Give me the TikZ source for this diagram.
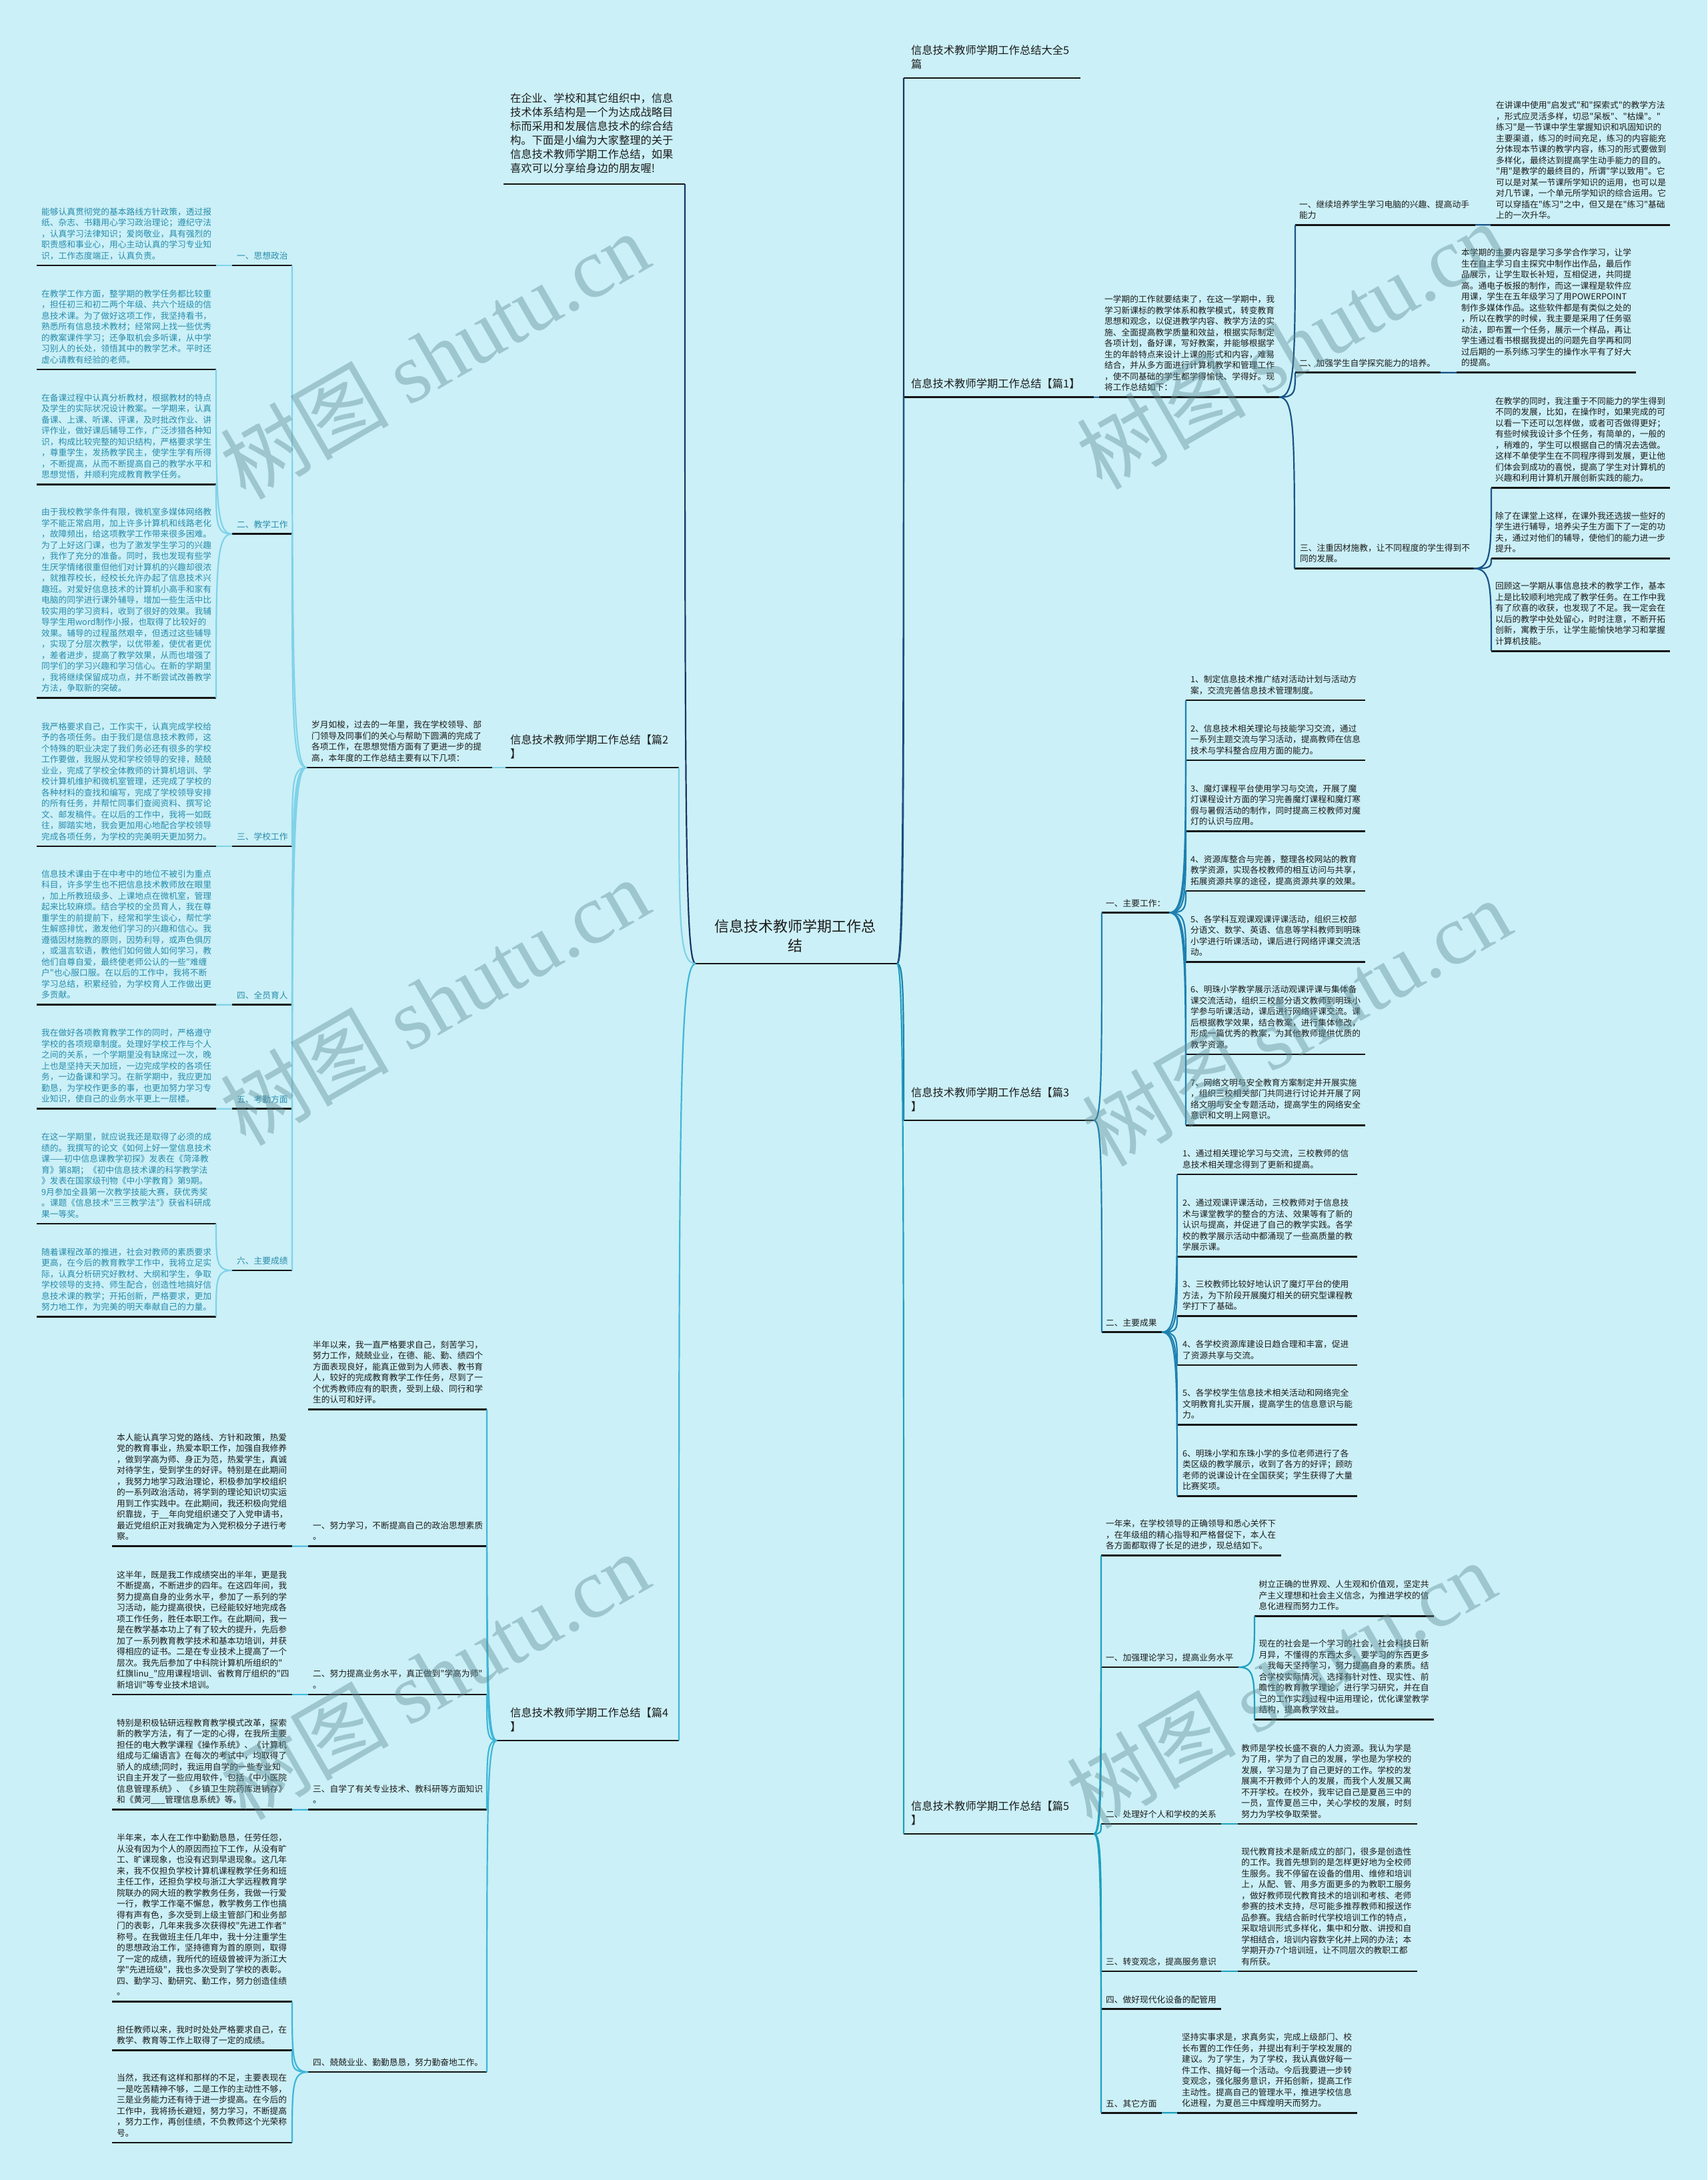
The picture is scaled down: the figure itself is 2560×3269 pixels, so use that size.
\documentclass[tikz,border=0pt]{standalone}
\usepackage{fontspec}
\newfontfamily\cjk{Noto Sans CJK SC}
\newfontfamily\wmlat{Liberation Serif}
\usetikzlibrary{calc}
\definecolor{bgc}{RGB}{203,240,247}
\definecolor{tealtxt}{RGB}{40,140,172}
\definecolor{ink}{RGB}{28,28,28}
\definecolor{cA}{RGB}{26,52,100}
\definecolor{cBa}{RGB}{24,84,134}
\definecolor{cBb}{RGB}{128,210,233}
\definecolor{cBc}{RGB}{30,128,176}
\definecolor{cBd}{RGB}{62,182,216}
\definecolor{cBe}{RGB}{30,160,190}
\definecolor{wmc}{RGB}{95,140,150}
\newcommand\leaffont{\cjk\fontsize{12.75}{16.5}\selectfont}
\newcommand\bigfont{\cjk\fontsize{16.3}{21}\selectfont}
\newcommand\rootfont{\cjk\fontsize{22}{29}\selectfont}
\newcommand\wmfont{\cjk\fontsize{127}{130}\selectfont}
\newcommand\tnode[6]{\node[#1] (#2) at (#3,{#4-20.6-(#5-1)*16.5}) {#6};}
\newcommand\bnode[6]{\node[#1] (#2) at (#3,{#4-28.5-(#5-1)*21}) {#6};}
\newcommand\ulmk[4]{\coordinate (#1L) at (#2,#4); \coordinate (#1R) at (#3,#4); \draw[uline] (#1L) -- (#1R);}
\newcommand\lnk[3]{\draw[conn,#1] (#2) .. controls (#2 -| #3) and ($(#3)!0.8!(#2 -| #3)$) .. (#3);}
\tikzset{
  tbase/.style={anchor=north west, inner sep=0pt, outer sep=0pt, align=left, execute at begin node={\rule{0pt}{0.9em}}},
  leafk/.style={tbase, font=\leaffont, text=ink},
  leaft/.style={tbase, font=\leaffont, text=tealtxt},
  bigk/.style={tbase, font=\bigfont, text=ink},
  uline/.style={draw=black!92, line width=2.6pt},
  conn/.style={line width=2.2pt},
  wmark/.style={rotate=30, text=wmc, opacity=0.42, inner sep=0pt, font=\wmfont},
}
\begin{document}
\begin{tikzpicture}[x=1pt,y=-1pt]
\fill[bgc] (0,0) rectangle (2560,3269);
\useasboundingbox (0,0) rectangle (2560,3269);

% ---------------- root ----------------
\node[font=\rootfont, text=ink, align=center, inner sep=0pt] (root) at (1192,1403) {信息技术教师学期工作总\\结};
\ulmk{RT}{1043}{1345}{1445}

% ---------------- top intro ----------------
\ulmk{I0}{755}{1027}{276}
\node[bigk] (I0) at (765,139.5) {在企业、学校和其它组织中，信息\\技术体系结构是一个为达成战略目\\标而采用和发展信息技术的综合结\\构。下面是小编为大家整理的关于\\信息技术教师学期工作总结，如果\\喜欢可以分享给身边的朋友喔!};

% ---------------- top title ----------------
\ulmk{T0}{1355}{1620}{117}
\bnode{bigk}{T0}{1366}{117}{2}{信息技术教师学期工作总结大全5\\篇}

% ---------------- 篇2 (left) ----------------
\ulmk{Pb}{758}{1018}{1151}
\bnode{bigk}{Pb}{765}{1151}{2}{信息技术教师学期工作总结【篇2\\】}
\ulmk{Pbi}{460}{738}{1151}
\tnode{leafk}{Pbi}{467}{1151}{4}{岁月如梭，过去的一年里，我在学校领导、部\\门领导及同事们的关心与帮助下圆满的完成了\\各项工作，在思想觉悟方面有了更进一步的提\\高，本年度的工作总结主要有以下几项：}

\ulmk{La}{348}{438}{398}
\tnode{leaft}{La}{355}{398}{1}{一、思想政治}
\ulmk{Lb}{348}{438}{800.7}
\tnode{leaft}{Lb}{355}{800.7}{1}{二、教学工作}
\ulmk{Lc}{348}{438}{1269}
\tnode{leaft}{Lc}{355}{1269}{1}{三、学校工作}
\ulmk{Ld}{348}{438}{1506.7}
\tnode{leaft}{Ld}{355}{1506.7}{1}{四、全员育人}
\ulmk{Le}{348}{438}{1662.7}
\tnode{leaft}{Le}{355}{1662.7}{1}{五、考勤方面}
\ulmk{Lf}{348}{438}{1905}
\tnode{leaft}{Lf}{355}{1905}{1}{六、主要成绩}

\ulmk{La1}{55}{324}{398}
\tnode{leaft}{La1}{62}{398}{5}{能够认真贯彻党的基本路线方针政策，透过报\\纸、杂志、书籍用心学习政治理论；遵纪守法\\，认真学习法律知识；爱岗敬业，具有强烈的\\职责感和事业心，用心主动认真的学习专业知\\识，工作态度端正，认真负责。}
\ulmk{Lb1}{55}{324}{554}
\tnode{leaft}{Lb1}{62}{554}{7}{在教学工作方面，整学期的教学任务都比较重\\，担任初三和初二两个年级、共六个班级的信\\息技术课。为了做好这项工作，我坚持看书，\\熟悉所有信息技术教材；经常网上找一些优秀\\的教案课件学习；还争取机会多听课，从中学\\习别人的长处，领悟其中的教学艺术。平时还\\虚心请教有经验的老师。}
\ulmk{Lb2}{55}{324}{726.4}
\tnode{leaft}{Lb2}{62}{726.4}{8}{在备课过程中认真分析教材，根据教材的特点\\及学生的实际状况设计教案。一学期来，认真\\备课、上课、听课、评课，及时批改作业、讲\\评作业，做好课后辅导工作，广泛涉猎各种知\\识，构成比较完整的知识结构，严格要求学生\\，尊重学生，发扬教学民主，使学生学有所得\\，不断提高，从而不断提高自己的教学水平和\\思想觉悟，并顺利完成教育教学任务。}
\ulmk{Lb3}{55}{324}{1046.5}
\tnode{leaft}{Lb3}{62}{1046.5}{17}{由于我校教学条件有限，微机室多媒体网络教\\学不能正常启用，加上许多计算机和线路老化\\，故障频出，给这项教学工作带来很多困难。\\为了上好这门课，也为了激发学生学习的兴趣\\，我作了充分的准备。同时，我也发现有些学\\生厌学情绪很重但他们对计算机的兴趣却很浓\\，就推荐校长，经校长允许办起了信息技术兴\\趣班。对爱好信息技术的计算机小高手和家有\\电脑的同学进行课外辅导，增加一些生活中比\\较实用的学习资料，收到了很好的效果。我辅\\导学生用word制作小报，也取得了比较好的\\效果。辅导的过程虽然艰辛，但透过这些辅导\\，实现了分层次教学，以优带差，使优者更优\\，差者进步，提高了教学效果，从而也增强了\\同学们的学习兴趣和学习信心。在新的学期里\\，我将继续保留成功点，并不断尝试改善教学\\方法，争取新的突破。}
\ulmk{Lc1}{55}{324}{1269}
\tnode{leaft}{Lc1}{62}{1269}{11}{我严格要求自己，工作实干，认真完成学校给\\予的各项任务。由于我们是信息技术教师，这\\个特殊的职业决定了我们务必还有很多的学校\\工作要做，我服从党和学校领导的安排，兢兢\\业业，完成了学校全体教师的计算机培训、学\\校计算机维护和微机室管理，还完成了学校的\\各种材料的查找和编写，完成了学校领导安排\\的所有任务，并帮忙同事们查阅资料、撰写论\\文、邮发稿件。在以后的工作中，我将一如既\\往，脚踏实地，我会更加用心地配合学校领导\\完成各项任务，为学校的完美明天更加努力。}
\ulmk{Ld1}{55}{324}{1506.7}
\tnode{leaft}{Ld1}{62}{1506.7}{12}{信息技术课由于在中考中的地位不被引为重点\\科目，许多学生也不把信息技术教师放在眼里\\，加上所教班级多、上课地点在微机室，管理\\起来比较麻烦。结合学校的全员育人，我在尊\\重学生的前提前下，经常和学生谈心，帮忙学\\生解惑排忧，激发他们学习的兴趣和信心。我\\遵循因材施教的原则，因势利导，或声色俱厉\\，或温言软语，教他们如何做人如何学习，教\\他们自尊自爱，最终使老师公认的一些"难缠\\户"也心服口服。在以后的工作中，我将不断\\学习总结，积累经验，为学校育人工作做出更\\多贡献。}
\ulmk{Le1}{55}{324}{1662.7}
\tnode{leaft}{Le1}{62}{1662.7}{7}{我在做好各项教育教学工作的同时，严格遵守\\学校的各项规章制度。处理好学校工作与个人\\之间的关系，一个学期里没有缺席过一次，晚\\上也是坚持天天加班，一边完成学校的各项任\\务，一边备课和学习。在新学期中，我应更加\\勤恳，为学校作更多的事，也更加努力学习专\\业知识，使自己的业务水平更上一层楼。}
\ulmk{Lf1}{55}{324}{1835}
\tnode{leaft}{Lf1}{62}{1835}{8}{在这一学期里，就应说我还是取得了必须的成\\绩的。我撰写的论文《如何上好一堂信息技术\\课——初中信息课教学初探》发表在《菏泽教\\育》第8期；《初中信息技术课的科学教学法\\》发表在国家级刊物《中小学教育》第9期。\\9月参加全县第一次教学技能大赛，获优秀奖\\。课题《信息技术"三三教学法"》获省科研成\\果一等奖。}
\ulmk{Lf2}{55}{324}{1974.3}
\tnode{leaft}{Lf2}{62}{1974.3}{6}{随着课程改革的推进，社会对教师的素质要求\\更高，在今后的教育教学工作中，我将立足实\\际，认真分析研究好教材、大纲和学生，争取\\学校领导的支持、师生配合，创造性地搞好信\\息技术课的教学；开拓创新，严格要求，更加\\努力地工作，为完美的明天奉献自己的力量。}

\lnk{cBb}{PbL}{PbiR}
\lnk{cBb}{PbiL}{LaR}
\lnk{cBb}{PbiL}{LbR}
\lnk{cBb}{PbiL}{LcR}
\lnk{cBb}{PbiL}{LdR}
\lnk{cBb}{PbiL}{LeR}
\lnk{cBb}{PbiL}{LfR}
\lnk{cBb}{LaL}{La1R}
\lnk{cBb}{LbL}{Lb1R}
\lnk{cBb}{LbL}{Lb2R}
\lnk{cBb}{LbL}{Lb3R}
\lnk{cBb}{LcL}{Lc1R}
\lnk{cBb}{LdL}{Ld1R}
\lnk{cBb}{LeL}{Le1R}
\lnk{cBb}{LfL}{Lf1R}
\lnk{cBb}{LfL}{Lf2R}

% ---------------- 篇4 (left) ----------------
\ulmk{Pd}{745}{1018}{2610}
\bnode{bigk}{Pd}{765}{2610}{2}{信息技术教师学期工作总结【篇4\\】}
\ulmk{Pdi}{462}{730}{2113.7}
\tnode{leafk}{Pdi}{469}{2113.7}{6}{半年以来，我一直严格要求自己，刻苦学习，\\努力工作，兢兢业业，在德、能、勤、绩四个\\方面表现良好，能真正做到为人师表、教书育\\人，较好的完成教育教学工作任务，尽到了一\\个优秀教师应有的职责，受到上级、同行和学\\生的认可和好评。}
\ulmk{Sa}{462}{730}{2318.6}
\tnode{leafk}{Sa}{469}{2318.6}{2}{一、努力学习，不断提高自己的政治思想素质\\。}
\ulmk{Sa1}{168}{438}{2318.6}
\tnode{leafk}{Sa1}{175}{2318.6}{10}{本人能认真学习党的路线、方针和政策，热爱\\党的教育事业，热爱本职工作，加强自我修养\\，做到学高为师、身正为范，热爱学生，真诚\\对待学生，受到学生的好评。特别是在此期间\\，我努力地学习政治理论，积极参加学校组织\\的一系列政治活动，将学到的理论知识切实运\\用到工作实践中。在此期间，我还积极向党组\\织靠拢，于\_\_年向党组织递交了入党申请书，\\最近党组织正对我确定为入党积极分子进行考\\察。}
\ulmk{Sb}{462}{730}{2541}
\tnode{leafk}{Sb}{469}{2541}{2}{二、努力提高业务水平，真正做到"学高为师"\\。}
\ulmk{Sb1}{168}{438}{2541}
\tnode{leafk}{Sb1}{175}{2541}{11}{这半年，既是我工作成绩突出的半年，更是我\\不断提高，不断进步的四年。在这四年间，我\\努力提高自身的业务水平，参加了一系列的学\\习活动，能力提高很快，已经能较好地完成各\\项工作任务，胜任本职工作。在此期间，我一\\是在教学基本功上了有了较大的提升，先后参\\加了一系列教育教学技术和基本功培训，并获\\得相应的证书。二是在专业技术上提高了一个\\层次。我先后参加了中科院计算机所组织的"\\红旗linu\_"应用课程培训、省教育厅组织的"四\\新培训"等专业技术培训。}
\ulmk{Sc}{462}{730}{2713.7}
\tnode{leafk}{Sc}{469}{2713.7}{2}{三、自学了有关专业技术、教科研等方面知识\\。}
\ulmk{Sc1}{168}{438}{2713.7}
\tnode{leafk}{Sc1}{175}{2713.7}{8}{特别是积极钻研远程教育教学模式改革，探索\\新的教学方法，有了一定的心得，在我所主要\\担任的电大教学课程《操作系统》、《计算机\\组成与汇编语言》在每次的考试中，均取得了\\骄人的成绩;同时，我运用自学的一些专业知\\识自主开发了一些应用软件，包括《中小医院\\信息管理系统》、《乡镇卫生院药库进销存》\\和《黄河\_\_\_管理信息系统》等。}
\ulmk{Sd}{462}{730}{3107}
\tnode{leafk}{Sd}{469}{3107}{1}{四、兢兢业业、勤勤恳恳，努力勤奋地工作。}
\ulmk{Sd1}{168}{438}{3001.6}
\tnode{leafk}{Sd1}{175}{3001.6}{15}{半年来，本人在工作中勤勤恳恳，任劳任怨，\\从没有因为个人的原因而拉下工作，从没有旷\\工、旷课现象，也没有迟到早退现象。这几年\\来，我不仅担负学校计算机课程教学任务和班\\主任工作，还担负学校与浙江大学远程教育学\\院联办的网大班的教学教务任务，我做一行爱\\一行，教学工作毫不懈怠，教学教务工作也搞\\得有声有色，多次受到上级主管部门和业务部\\门的表彰，几年来我多次获得校"先进工作者"\\称号。在我做班主任几年中，我十分注重学生\\的思想政治工作，坚持德育为首的原则，取得\\了一定的成绩，我所代的班级曾被评为浙江大\\学"先进班级"，我也多次受到了学校的表彰。\\四、勤学习、勤研究、勤工作，努力创造佳绩\\。}
\ulmk{Sd2}{168}{438}{3074.7}
\tnode{leafk}{Sd2}{175}{3074.7}{2}{担任教师以来，我时时处处严格要求自己，在\\教学、教育等工作上取得了一定的成绩。}
\ulmk{Sd3}{168}{438}{3213}
\tnode{leafk}{Sd3}{175}{3213}{6}{当然，我还有这样和那样的不足，主要表现在\\一是吃苦精神不够，二是工作的主动性不够，\\三是业务能力还有待于进一步提高。在今后的\\工作中，我将扬长避短，努力学习，不断提高\\，努力工作，再创佳绩，不负教师这个光荣称\\号。}

\lnk{cBd}{PdL}{PdiR}
\lnk{cBd}{PdL}{SaR}
\lnk{cBd}{PdL}{SbR}
\lnk{cBd}{PdL}{ScR}
\lnk{cBd}{PdL}{SdR}
\lnk{cBd}{SaL}{Sa1R}
\lnk{cBd}{SbL}{Sb1R}
\lnk{cBd}{ScL}{Sc1R}
\lnk{cBd}{SdL}{Sd1R}
\lnk{cBd}{SdL}{Sd2R}
\lnk{cBd}{SdL}{Sd3R}

% ---------------- 篇1 (right) ----------------
\ulmk{Pa}{1355}{1640}{595.6}
\bnode{bigk}{Pa}{1366}{595.6}{1}{信息技术教师学期工作总结【篇1】}
\ulmk{Pai}{1648}{1918}{595.6}
\tnode{leafk}{Pai}{1656}{595.6}{9}{一学期的工作就要结束了，在这一学期中，我\\学习新课标的教学体系和教学模式，转变教育\\思想和观念，以促进教学内容、教学方法的实\\施、全面提高教学质量和效益，根据实际制定\\各项计划，备好课，写好教案，并能够根据学\\生的年龄特点来设计上课的形式和内容，难易\\结合，并从多方面进行计算机教学和管理工作\\，使不同基础的学生都学得愉快、学得好。现\\将工作总结如下：}
\ulmk{Qa}{1942}{2212}{337.3}
\tnode{leafk}{Qa}{1948}{337.3}{2}{一、继续培养学生学习电脑的兴趣、提高动手\\能力}
\ulmk{Qa1}{2235}{2504}{337.3}
\tnode{leafk}{Qa1}{2243}{337.3}{11}{在讲课中使用"启发式"和"探索式"的教学方法\\，形式应灵活多样，切忌"呆板"、"枯燥"。"\\练习"是一节课中学生掌握知识和巩固知识的\\主要渠道，练习的时间充足，练习的内容能充\\分体现本节课的教学内容，练习的形式要做到\\多样化，最终达到提高学生动手能力的目的。\\"用"是教学的最终目的，所谓"学以致用"。它\\可以是对某一节课所学知识的运用，也可以是\\对几节课，一个单元所学知识的综合运用。它\\可以穿插在"练习"之中，但又是在"练习"基础\\上的一次升华。}
\ulmk{Qb}{1942}{2160}{558.7}
\tnode{leafk}{Qb}{1948}{558.7}{1}{二、加强学生自学探究能力的培养。}
\ulmk{Qb1}{2184}{2453}{558.7}
\tnode{leafk}{Qb1}{2191}{558.7}{11}{本学期的主要内容是学习多学合作学习，让学\\生在自主学习自主探究中制作出作品，最后作\\品展示，让学生取长补短，互相促进，共同提\\高。通电子板报的制作，而这一课程是软件应\\用课，学生在五年级学习了用POWERPOINT\\制作多媒体作品。这些软件都是有类似之处的\\，所以在教学的时候，我主要是采用了任务驱\\动法，即布置一个任务，展示一个样品，再让\\学生通过看书根据我提出的问题先自学再和同\\过后期的一系列练习学生的操作水平有了好大\\的提高。}
\ulmk{Qc}{1941}{2210}{852.6}
\tnode{leafk}{Qc}{1949}{852.6}{2}{三、注重因材施教，让不同程度的学生得到不\\同的发展。}
\ulmk{Qc1}{2236}{2504}{731.5}
\tnode{leafk}{Qc1}{2242}{731.5}{8}{在教学的同时，我注重于不同能力的学生得到\\不同的发展，比如，在操作时，如果完成的可\\以看一下还可以怎样做，或者可否做得更好；\\有些时候我设计多个任务，有简单的，一般的\\，稍难的，学生可以根据自己的情况去选做。\\这样不单使学生在不同程序得到发展，更让他\\们体会到成功的喜悦，提高了学生对计算机的\\兴趣和利用计算机开展创新实践的能力。}
\ulmk{Qc2}{2236}{2504}{837.3}
\tnode{leafk}{Qc2}{2242}{837.3}{4}{除了在课堂上这样，在课外我还选拔一些好的\\学生进行辅导，培养尖子生方面下了一定的功\\夫，通过对他们的辅导，使他们的能力进一步\\提升。}
\ulmk{Qc3}{2236}{2504}{976.2}
\tnode{leafk}{Qc3}{2242}{976.2}{6}{回顾这一学期从事信息技术的教学工作，基本\\上是比较顺利地完成了教学任务。在工作中我\\有了欣喜的收获，也发现了不足。我一定会在\\以后的教学中处处留心，时时注意，不断开拓\\创新，寓教于乐，让学生能愉快地学习和掌握\\计算机技能。}

\lnk{cBa}{PaR}{PaiL}
\lnk{cBa}{PaiR}{QaL}
\lnk{cBa}{PaiR}{QbL}
\lnk{cBa}{PaiR}{QcL}
\lnk{cBa}{QaR}{Qa1L}
\lnk{cBa}{QbR}{Qb1L}
\lnk{cBa}{QcR}{Qc1L}
\lnk{cBa}{QcR}{Qc2L}
\lnk{cBa}{QcR}{Qc3L}

% ---------------- 篇3 (right) ----------------
\ulmk{Pc}{1355}{1640}{1680}
\bnode{bigk}{Pc}{1366}{1680}{2}{信息技术教师学期工作总结【篇3\\】}
\ulmk{Ra}{1652}{1753}{1368.6}
\tnode{leafk}{Ra}{1658}{1368.6}{1}{一、主要工作：}
\ulmk{Ra1}{1778}{2047}{1050}
\tnode{leafk}{Ra1}{1785}{1050}{2}{1、制定信息技术推广结对活动计划与活动方\\案，交流完善信息技术管理制度。}
\ulmk{Ra2}{1778}{2047}{1140}
\tnode{leafk}{Ra2}{1785}{1140}{3}{2、信息技术相关理论与技能学习交流，通过\\一系列主题交流与学习活动，提高教师在信息\\技术与学科整合应用方面的能力。}
\ulmk{Ra3}{1778}{2047}{1246.3}
\tnode{leafk}{Ra3}{1785}{1246.3}{4}{3、魔灯课程平台使用学习与交流，开展了魔\\灯课程设计方面的学习完善魔灯课程和魔灯寒\\假与暑假活动的制作，同时提高三校教师对魔\\灯的认识与应用。}
\ulmk{Ra4}{1778}{2047}{1336}
\tnode{leafk}{Ra4}{1785}{1336}{3}{4、资源库整合与完善，整理各校网站的教育\\教学资源，实现各校教师的相互访问与共享，\\拓展资源共享的途径，提高资源共享的效果。}
\ulmk{Ra5}{1778}{2047}{1442.3}
\tnode{leafk}{Ra5}{1785}{1442.3}{4}{5、各学科互观课观课评课活动，组织三校部\\分语文、数学、英语、信息等学科教师到明珠\\小学进行听课活动，课后进行网络评课交流活\\动。}
\ulmk{Ra6}{1778}{2047}{1581}
\tnode{leafk}{Ra6}{1785}{1581}{6}{6、明珠小学教学展示活动观课评课与集体备\\课交流活动，组织三校部分语文教师到明珠小\\学参与听课活动，课后进行网络评课交流。课\\后根据教学效果，结合教案，进行集体修改，\\形成一篇优秀的教案，为其他教师提供优质的\\教学资源。}
\ulmk{Ra7}{1778}{2047}{1687.3}
\tnode{leafk}{Ra7}{1785}{1687.3}{4}{7、网络文明与安全教育方案制定并开展实施\\，组织三校相关部门共同进行讨论并开展了网\\络文明与安全专题活动，提高学生的网络安全\\意识和文明上网意识。}
\ulmk{Rb}{1652}{1742}{1997.7}
\tnode{leafk}{Rb}{1658}{1997.7}{1}{二、主要成果}
\ulmk{Rb1}{1765}{2035}{1761}
\tnode{leafk}{Rb1}{1773}{1761}{2}{1、通过相关理论学习与交流，三校教师的信\\息技术相关理念得到了更新和提高。}
\ulmk{Rb2}{1765}{2035}{1884.3}
\tnode{leafk}{Rb2}{1773}{1884.3}{5}{2、通过观课评课活动，三校教师对于信息技\\术与课堂教学的整合的方法、效果等有了新的\\认识与提高，并促进了自己的教学实践。各学\\校的教学展示活动中都涌现了一些高质量的教\\学展示课。}
\ulmk{Rb3}{1765}{2035}{1973.7}
\tnode{leafk}{Rb3}{1773}{1973.7}{3}{3、三校教师比较好地认识了魔灯平台的使用\\方法，为下阶段开展魔灯相关的研究型课程教\\学打下了基础。}
\ulmk{Rb4}{1765}{2035}{2047}
\tnode{leafk}{Rb4}{1773}{2047}{2}{4、各学校资源库建设日趋合理和丰富，促进\\了资源共享与交流。}
\ulmk{Rb5}{1765}{2035}{2136.2}
\tnode{leafk}{Rb5}{1773}{2136.2}{3}{5、各学校学生信息技术相关活动和网络完全\\文明教育扎实开展，提高学生的信息意识与能\\力。}
\ulmk{Rb6}{1765}{2035}{2243.4}
\tnode{leafk}{Rb6}{1773}{2243.4}{4}{6、明珠小学和东珠小学的多位老师进行了各\\类区级的教学展示，收到了各方的好评；顾昉\\老师的说课设计在全国获奖；学生获得了大量\\比赛奖项。}

\lnk{cBc}{PcR}{RaL}
\lnk{cBc}{PcR}{RbL}
\lnk{cBc}{RaR}{Ra1L}
\lnk{cBc}{RaR}{Ra2L}
\lnk{cBc}{RaR}{Ra3L}
\lnk{cBc}{RaR}{Ra4L}
\lnk{cBc}{RaR}{Ra5L}
\lnk{cBc}{RaR}{Ra6L}
\lnk{cBc}{RaR}{Ra7L}
\lnk{cBc}{RbR}{Rb1L}
\lnk{cBc}{RbR}{Rb2L}
\lnk{cBc}{RbR}{Rb3L}
\lnk{cBc}{RbR}{Rb4L}
\lnk{cBc}{RbR}{Rb5L}
\lnk{cBc}{RbR}{Rb6L}

% ---------------- 篇5 (right) ----------------
\ulmk{Pe}{1355}{1640}{2750}
\bnode{bigk}{Pe}{1366}{2750}{2}{信息技术教师学期工作总结【篇5\\】}
\ulmk{Ua}{1651}{1921}{2332.7}
\tnode{leafk}{Ua}{1658}{2332.7}{3}{一年来，在学校领导的正确领导和悉心关怀下\\，在年级组的精心指导和严格督促下，本人在\\各方面都取得了长足的进步，现总结如下。}
\ulmk{Ub}{1651}{1857}{2500}
\tnode{leafk}{Ub}{1658}{2500}{1}{一、加强理论学习，提高业务水平}
\ulmk{Ub1}{1881}{2150}{2423.3}
\tnode{leafk}{Ub1}{1887.5}{2423.3}{3}{树立正确的世界观、人生观和价值观，坚定共\\产主义理想和社会主义信念，为推进学校的信\\息化进程而努力工作。}
\ulmk{Ub2}{1881}{2150}{2578.3}
\tnode{leafk}{Ub2}{1887.5}{2578.3}{7}{现在的社会是一个学习的社会，社会科技日新\\月异，不懂得的东西太多，要学习的东西更多\\。我每天坚持学习，努力提高自身的素质。结\\合学校实际情况，选择有针对性、现实性、前\\瞻性的教育教学理论，进行学习研究，并在自\\己的工作实践过程中运用理论，优化课堂教学\\结构，提高教学效益。}
\ulmk{Uc}{1651}{1831}{2735}
\tnode{leafk}{Uc}{1658}{2735}{1}{二、处理好个人和学校的关系}
\ulmk{Uc1}{1855}{2125}{2735}
\tnode{leafk}{Uc1}{1861.4}{2735}{7}{教师是学校长盛不衰的人力资源。我认为学是\\为了用，学为了自己的发展，学也是为学校的\\发展，学习是为了自己更好的工作。学校的发\\展离不开教师个人的发展，而我个人发展又离\\不开学校。在校外，我牢记自己是夏邑三中的\\一员，宣传夏邑三中，关心学校的发展，时刻\\努力为学校争取荣誉。}
\ulmk{Ud}{1651}{1831}{2956}
\tnode{leafk}{Ud}{1658}{2956}{1}{三、转变观念，提高服务意识}
\ulmk{Ud1}{1855}{2125}{2956}
\tnode{leafk}{Ud1}{1861.4}{2956}{11}{现代教育技术是新成立的部门，很多是创造性\\的工作。我首先想到的是怎样更好地为全校师\\生服务。我不停留在设备的借用、维修和培训\\上，从配、管、用多方面更多的为教职工服务\\，做好教师现代教育技术的培训和考核、老师\\参赛的技术支持，尽可能多推荐教师和报送作\\品参赛。我结合新时代学校培训工作的特点，\\采取培训形式多样化，集中和分散、讲授和自\\学相结合，培训内容数字化并上网的办法；本\\学期开办7个培训班，让不同层次的教职工都\\有所获。}
\ulmk{Ue}{1651}{1831}{3012.7}
\tnode{leafk}{Ue}{1658}{3012.7}{1}{四、做好现代化设备的配管用}
\ulmk{Uf}{1651}{1742}{3168.3}
\tnode{leafk}{Uf}{1658}{3168.3}{1}{五、其它方面}
\ulmk{Uf1}{1765}{2035}{3168.3}
\tnode{leafk}{Uf1}{1772}{3168.3}{7}{坚持实事求是，求真务实，完成上级部门、校\\长布置的工作任务，并提出有利于学校发展的\\建议。为了学生，为了学校，我认真做好每一\\件工作、搞好每一个活动。今后我要进一步转\\变观念，强化服务意识，开拓创新，提高工作\\主动性。提高自己的管理水平，推进学校信息\\化进程，为夏邑三中辉煌明天而努力。}

\lnk{cBe}{PeR}{UaL}
\lnk{cBe}{PeR}{UbL}
\lnk{cBe}{PeR}{UcL}
\lnk{cBe}{PeR}{UdL}
\lnk{cBe}{PeR}{UeL}
\lnk{cBe}{PeR}{UfL}
\lnk{cBe}{UbR}{Ub1L}
\lnk{cBe}{UbR}{Ub2L}
\lnk{cBe}{UcR}{Uc1L}
\lnk{cBe}{UdR}{Ud1L}
\lnk{cBe}{UfR}{Uf1L}

% ---------------- trunk ----------------
\lnk{cA}{RTR}{T0L}
\lnk{cBa}{RTR}{PaL}
\lnk{cBc}{RTR}{PcL}
\lnk{cBe}{RTR}{PeL}
\lnk{cA}{RTL}{I0R}
\lnk{cBb}{RTL}{PbR}
\lnk{cBd}{RTL}{PdR}

% ---------------- watermarks ----------------
\node[wmark] (wm1) at (651,532) {树图 {\wmlat shutu.cn}};
\node[wmark] (wm2) at (1935,517) {树图 {\wmlat shutu.cn}};
\node[wmark] (wm3) at (651,1501) {树图 {\wmlat shutu.cn}};
\node[wmark] (wm4) at (1943,1532) {树图 {\wmlat shutu.cn}};
\node[wmark] (wm5) at (651,2512) {树图 {\wmlat shutu.cn}};
\node[wmark] (wm6) at (1920,2525) {树图 {\wmlat shutu.cn}};
\end{tikzpicture}
\end{document}
